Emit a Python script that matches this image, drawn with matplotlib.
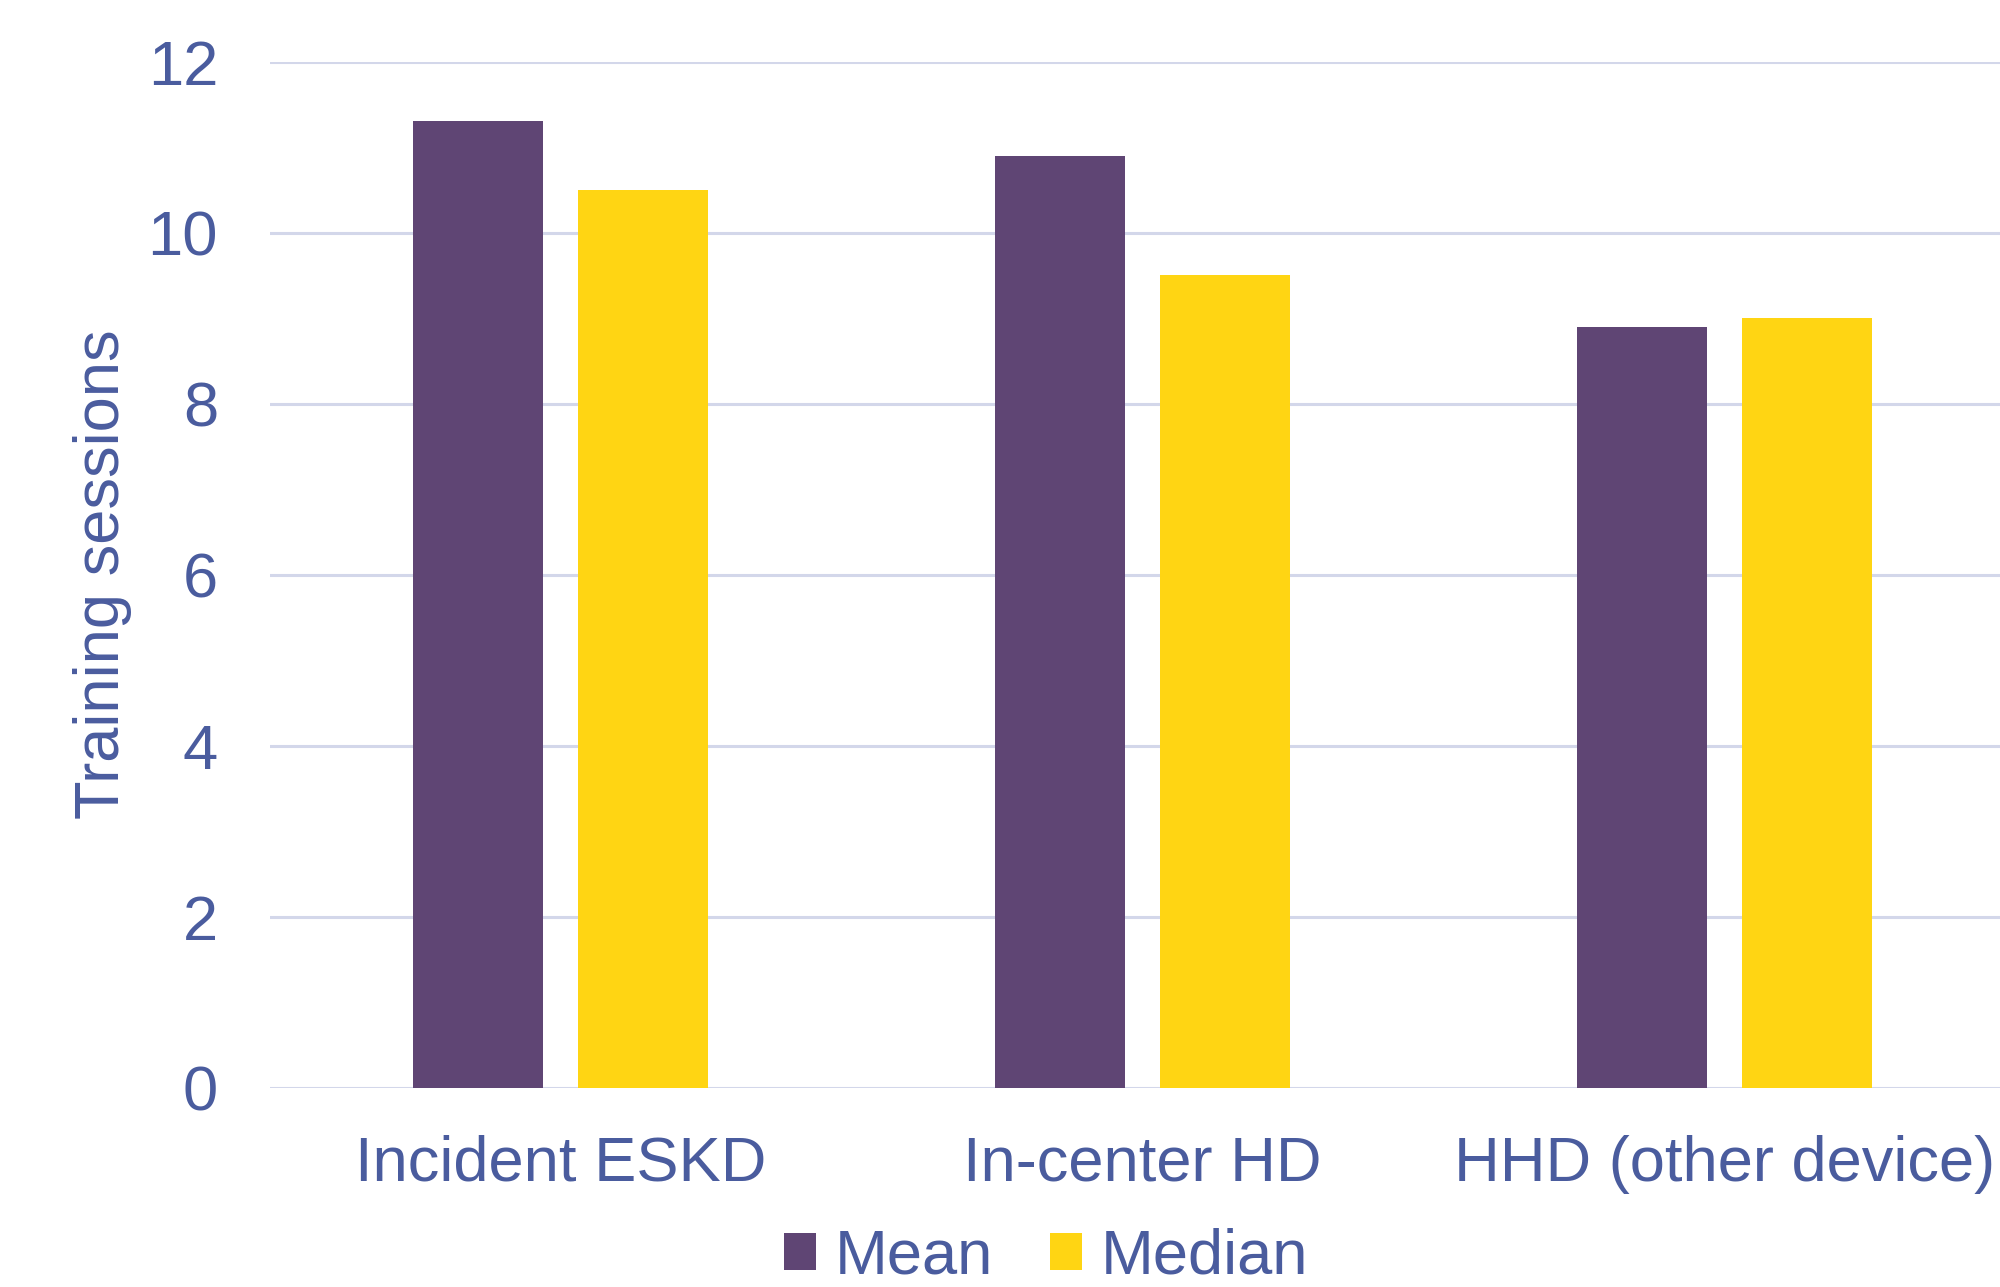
import matplotlib
matplotlib.use("Agg")
import matplotlib.pyplot as plt
import numpy as np

plt.rcParams["font.family"] = ["Liberation Sans", "DejaVu Sans"]

categories = ["Incident ESKD", "In-center HD", "HHD (other device)"]
mean_sessions = [11.3, 10.9, 8.9]
median_sessions = [10.5, 9.5, 9.0]
yticks = [0, 2, 4, 6, 8, 10, 12]

TEXT = "#4A5C9E"
GRID = "#D3D7EA"
PURPLE = "#5F4574"
YELLOW = "#FFD513"

fig = plt.figure(figsize=(20, 12.87), dpi=100)
ax = fig.add_axes([0.13475, 0.1549, 0.873, 0.7973])

x = np.arange(len(categories))
width = 0.223
offset = 0.142
ax.bar(x - offset, mean_sessions, width, color=PURPLE, label="Mean", zorder=3)
ax.bar(x + offset, median_sessions, width, color=YELLOW, label="Median", zorder=3)

ax.set_xlim(-0.5, len(categories) - 0.5)
ax.set_ylim(0, 12)
ax.set_yticks(yticks)
ax.set_xticks(x)
ax.set_xticklabels(categories)
ax.grid(axis="y", color=GRID, linewidth=2.2, zorder=0)
ax.set_axisbelow(True)
for side in ["top", "right", "left", "bottom"]:
    ax.spines[side].set_visible(False)
ax.tick_params(axis="both", length=0, labelsize=45.5, labelcolor=TEXT)
ax.tick_params(axis="y", pad=37)
ax.tick_params(axis="x", pad=34)

ax.set_ylabel("Training sessions", fontsize=45.5, color=TEXT)
ax.yaxis.set_label_coords(-0.0785, 0.5)

fig.legend(loc="center", bbox_to_anchor=(0.523, 0.023), ncol=2, frameon=False,
           fontsize=45.5, labelcolor=TEXT, handlelength=0.51, handleheight=0.51,
           handletextpad=0.29, columnspacing=0.9)

fig.savefig("out.png", dpi=100)
